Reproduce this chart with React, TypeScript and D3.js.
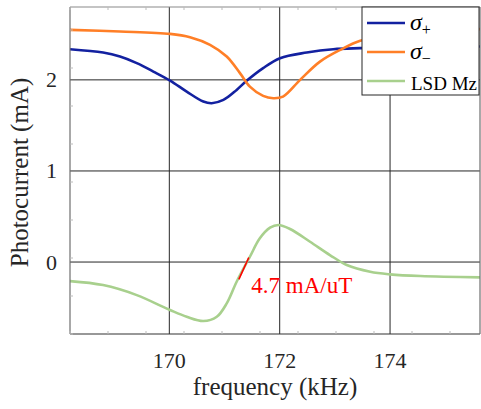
import React from "react";
import * as d3 from "d3";

const xTicks = [170, 172, 174];
const yTicks = [0, 1, 2];

const sigmaPlusFreq = [168.2, 168.8, 169.106, 169.41, 169.71, 170.013, 170.315, 170.616, 170.768, 170.98, 171.22, 171.4, 171.7, 172.007, 172.49, 172.97, 173.457, 174.18, 174.9, 175.63];
const sigmaPlusVal = [2.337, 2.3, 2.256, 2.184, 2.091, 1.992, 1.871, 1.762, 1.744, 1.78, 1.89, 1.989, 2.129, 2.238, 2.3, 2.337, 2.348, 2.355, 2.36, 2.366];

const sigmaMinusFreq = [168.2, 169.106, 170.013, 170.375, 170.738, 171.04, 171.28, 171.46, 171.7, 171.885, 172.06, 172.37, 172.73, 173.1, 173.46, 174.18, 174.9, 175.63];
const sigmaMinusVal = [2.549, 2.531, 2.505, 2.469, 2.385, 2.256, 2.074, 1.926, 1.824, 1.799, 1.816, 2.0, 2.2, 2.33, 2.43, 2.5, 2.54, 2.557];

const lsdFreq = [168.2, 168.8, 169.41, 170.013, 170.315, 170.616, 170.86, 171.04, 171.22, 171.46, 171.64, 171.825, 171.976, 172.188, 172.55, 172.91, 173.216, 173.64, 174.0, 174.55, 175.63];
const lsdVal = [-0.209, -0.253, -0.363, -0.527, -0.601, -0.648, -0.601, -0.454, -0.216, 0.058, 0.26, 0.377, 0.407, 0.363, 0.223, 0.077, -0.033, -0.107, -0.135, -0.154, -0.168];

const slopeFreq = [171.26, 171.44];
const slopeVal = [-0.19, 0.05];
const slopeLabel = "4.7 mA/uT";

const seriesNames = ["σ+", "σ−", "LSD Mz"];
const xLabel = "frequency (kHz)";
const yLabel = "Photocurrent (mA)";

const W = 481, H = 409;
const L = 70, R = 480, T = 7, B = 334;

export default function App() {
  const x = d3.scaleLinear().domain([168.2, 175.63]).range([L, R]);
  const y = d3.scaleLinear().domain([-0.79, 2.8]).range([B, T]);
  const line = d3
    .line<[number, number]>()
    .x((d) => x(d[0]))
    .y((d) => y(d[1]))
    .curve(d3.curveCatmullRom.alpha(0.5));
  const zip = (a: number[], b: number[]) => a.map((v, i) => [v, b[i]] as [number, number]);

  const series = [
    { f: sigmaPlusFreq, v: sigmaPlusVal, color: "#1321a0" },
    { f: sigmaMinusFreq, v: sigmaMinusVal, color: "#ff7f27" },
    { f: lsdFreq, v: lsdVal, color: "#a8d08d" },
  ];

  const minorX = d3.range(L, R, 38);
  const minorY = d3.range(B, T, -38);
  const font = "Liberation Serif, DejaVu Serif, serif";

  const legX = 362, legY = 7, legW = 117, legH = 88;
  const rowY = [23, 52, 81];

  return (
    <svg width={W} height={H} style={{ position: "absolute", left: 0, top: 0, background: "#fff", fontFamily: font }}>
      <defs>
        <clipPath id="plot">
          <rect x={L} y={T} width={R - L} height={B - T} />
        </clipPath>
      </defs>
      {/* major grid */}
      {xTicks.map((t) => (
        <line key={"gx" + t} x1={x(t)} x2={x(t)} y1={T} y2={B} stroke="#262626" strokeWidth={1} />
      ))}
      {yTicks.map((t) => (
        <line key={"gy" + t} x1={L} x2={R} y1={y(t)} y2={y(t)} stroke="#262626" strokeWidth={1} />
      ))}
      {/* curves */}
      <g clipPath="url(#plot)">
        {series.map((s, i) => (
          <path key={i} d={line(zip(s.f, s.v)) || ""} fill="none" stroke={s.color} strokeWidth={2.6} />
        ))}
        <path d={line(zip(slopeFreq, slopeVal)) || ""} fill="none" stroke="#ff0000" strokeWidth={1.6} />
      </g>
      <text x={x(slopeFreq[1]) + 2.5} y={292.5} fontSize={23} fill="#ff0000" style={{ fontFamily: font }}>
        {slopeLabel}
      </text>
      {/* axes box */}
      <line x1={L} x2={L} y1={T} y2={B} stroke="#6e6e6e" strokeWidth={1.2} />
      <line x1={L} x2={R} y1={B} y2={B} stroke="#333" strokeWidth={1.2} />
      <line x1={L} x2={R} y1={T} y2={T} stroke="#8a8a8a" strokeWidth={1.2} />
      <line x1={R} x2={R} y1={T} y2={B} stroke="#6e6e6e" strokeWidth={1.2} />
      {/* minor ticks */}
      {minorX.map((px, i) => (
        <g key={"mx" + i}>
          <line x1={px} x2={px} y1={B} y2={B - 3} stroke="#bbb" strokeWidth={1} />
          <line x1={px} x2={px} y1={T} y2={T + 3} stroke="#bbb" strokeWidth={1} />
        </g>
      ))}
      {minorY.map((py, i) => (
        <line key={"my" + i} x1={L} x2={L + 3} y1={py} y2={py} stroke="#bbb" strokeWidth={1} />
      ))}
      {/* tick labels */}
      {xTicks.map((t) => (
        <text key={"tx" + t} x={x(t)} y={367.5} fontSize={22} textAnchor="middle" fill="#262626" style={{ fontFamily: font }}>
          {t}
        </text>
      ))}
      {yTicks.map((t) => (
        <text key={"ty" + t} x={57} y={y(t) + 7.5} fontSize={22} textAnchor="end" fill="#262626" style={{ fontFamily: font }}>
          {t}
        </text>
      ))}
      <text x={(L + R) / 2} y={394.5} fontSize={25} textAnchor="middle" fill="#262626" style={{ fontFamily: font }}>
        {xLabel}
      </text>
      <text transform={`translate(28, ${(T + B) / 2 + 2}) rotate(-90)`} fontSize={25} textAnchor="middle" fill="#262626" style={{ fontFamily: font }}>
        {yLabel}
      </text>
      {/* legend */}
      <rect x={legX} y={legY} width={legW} height={legH} fill="#fff" stroke="#262626" strokeWidth={1} />
      {series.map((s, i) => (
        <line key={"ll" + i} x1={367} x2={405} y1={rowY[i]} y2={rowY[i]} stroke={s.color} strokeWidth={2.6} />
      ))}
      {seriesNames.map((n, i) =>
        i < 2 ? (
          <text key={"lt" + i} x={410} y={rowY[i] + 7} fill="#000" style={{ fontFamily: font }}>
            <tspan fontSize={24} fontStyle="italic">{n[0]}</tspan>
            <tspan fontSize={16} dy={5}>{n[1]}</tspan>
          </text>
        ) : (
          <text key={"lt" + i} x={411} y={rowY[i] + 9} fontSize={19} fill="#000" style={{ fontFamily: font }}>
            {n}
          </text>
        )
      )}
    </svg>
  );
}
